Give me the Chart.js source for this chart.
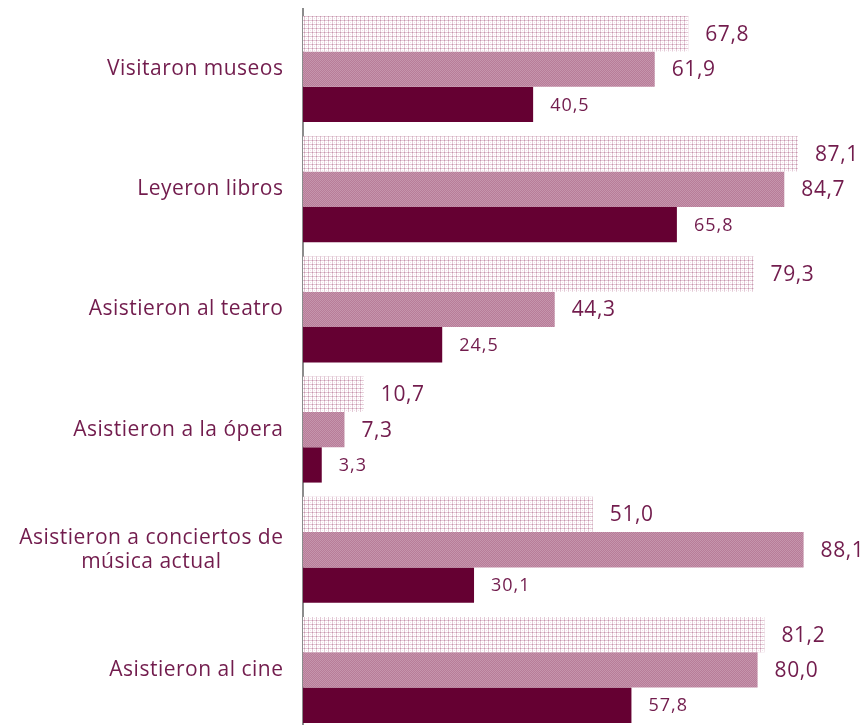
<!DOCTYPE html>
<html><head><meta charset="utf-8">
<script src="https://cdn.jsdelivr.net/npm/chart.js@4.4.1/dist/chart.umd.min.js"></script>
<style>
html,body{margin:0;padding:0;background:#fff;overflow:hidden;}
#wrap{position:relative;width:861px;height:730px;}
</style></head>
<body><div id="wrap"><canvas id="c"></canvas></div>
<script>
const categories = [
  "Visitaron museos",
  "Leyeron libros",
  "Asistieron al teatro",
  "Asistieron a la ópera",
  ["Asistieron a conciertos de", "música actual"],
  "Asistieron al cine"
];
const seriesA = [67.8, 87.1, 79.3, 10.7, 51.0, 81.2];
const seriesB = [61.9, 84.7, 44.3, 7.3, 88.1, 80.0];
const seriesC = [40.5, 65.8, 24.5, 3.3, 30.1, 57.8];

function makePattern(kind){
  const p = document.createElement('canvas');
  const ctx = p.getContext('2d');
  if(kind==='grid'){
    p.width=4;p.height=4;
    ctx.fillStyle='#ffffff';ctx.fillRect(0,0,4,4);
    ctx.fillStyle='#e3c8d5';ctx.fillRect(0,0,4,1);ctx.fillRect(0,0,1,4);
    ctx.fillStyle='#c697ae';ctx.fillRect(0,0,1,1);
    ctx.fillStyle='#f0e2e9';ctx.fillRect(2,2,1,1);
  } else {
    p.width=2;p.height=2;
    ctx.fillStyle='#b87c98';ctx.fillRect(0,0,2,2);
    ctx.fillStyle='#c595ad';ctx.fillRect(0,0,1,1);ctx.fillRect(1,1,1,1);
  }
  return document.getElementById('c').getContext('2d').createPattern(p,'repeat');
}

const textColor = '#721c4d';
const fontFam = '"Open Sans", Lato, sans-serif';

const labelPlugin = {
  id:'labels',
  afterDatasetsDraw(chart){
    const ctx = chart.ctx;
    ctx.save();
    ctx.fillStyle = textColor;
    ctx.textBaseline='middle';
    chart.data.datasets.forEach((ds,di)=>{
      const meta = chart.getDatasetMeta(di);
      meta.data.forEach((bar,i)=>{
        const v = ds.data[i];
        ctx.font = (di===2? '18px ':'21px ') + fontFam;
        ctx.letterSpacing = di===2 ? '1px' : '0.6px';
        ctx.textAlign='left';
        ctx.fillText(v.toFixed(1).replace('.',','), bar.x+17, bar.y+1);
      });
    });
    const ys = chart.scales.y;
    ctx.font = '21px ' + fontFam;
    ctx.letterSpacing = '0.5px';
    categories.forEach((lab,i)=>{
      const cy = ys.getPixelForValue(i);
      const rightX = 283.5;
      if(Array.isArray(lab)){
        const widths = lab.map(l=>ctx.measureText(l).width);
        const maxW = Math.max(...widths);
        const cx = rightX - maxW/2;
        ctx.textAlign='center';
        const lh = 24;
        lab.forEach((l,k)=>{
          ctx.fillText(l, cx, cy + (k-(lab.length-1)/2)*lh);
        });
      } else {
        ctx.textAlign='right';
        ctx.fillText(lab, rightX, cy);
      }
    });
    ctx.restore();
  }
};

const chart = new Chart(document.getElementById('c'),{
  type:'bar',
  data:{
    labels:categories,
    datasets:[
      {label:'A', data:seriesA, backgroundColor:makePattern('grid')},
      {label:'B', data:seriesB, backgroundColor:makePattern('check')},
      {label:'C', data:seriesC, backgroundColor:'#650032'}
    ]
  },
  options:{
    indexAxis:'y',
    responsive:true,
    maintainAspectRatio:false,
    animation:false,
    layout:{padding:{top:9,bottom:0,left:0,right:0}},
    datasets:{bar:{barPercentage:1.0,categoryPercentage:0.882}},
    plugins:{legend:{display:false},tooltip:{enabled:false}},
    scales:{
      x:{display:false,min:0,max:98.2},
      y:{
        grid:{display:false,drawTicks:false},
        border:{display:true,color:'#8c8c8c',width:2},
        ticks:{display:false},
        afterFit(s){s.width=303;}
      }
    }
  },
  plugins:[labelPlugin]
});
</script></body></html>
